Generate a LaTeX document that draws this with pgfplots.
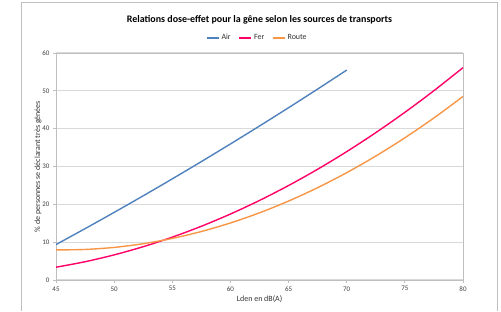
\documentclass[border=0pt]{standalone}
\usepackage{pgfplots}
\pgfplotsset{compat=1.18}
\usepackage{fontspec}
\setmainfont{Carlito}
\definecolor{cair}{HTML}{4F81BD}
\definecolor{cfer}{HTML}{FF0066}
\definecolor{croute}{HTML}{F79646}
\definecolor{cgrid}{HTML}{D9D9D9}
\definecolor{caxis}{HTML}{BFBFBF}
\begin{document}
\begin{tikzpicture}[x=1bp,y=1bp]
\path[use as bounding box] (0,0) rectangle (501,311);
\draw[caxis,line width=0.8bp] (21,0) -- (21,309) -- (497,309) -- (497,0);
\begin{axis}[
  at={(56bp,31bp)}, anchor=south west,
  width=407bp, height=227bp, scale only axis,
  xmin=45, xmax=80, ymin=0, ymax=60,
  xtick={45,50,...,80}, ytick={0,10,...,60},
  ymajorgrids, grid style={cgrid,line width=1.1bp},
  axis line style={caxis,line width=0.8bp},
  tick style={caxis,line width=0.8bp},
  tick align=outside, major tick length=3bp,
  xtick pos=bottom, ytick pos=left,
  ticklabel style={font=\fontsize{7}{8}\selectfont, text=black!75},
  /pgf/number format/assume math mode=true,
  xlabel={Lden en dB(A)},
  xlabel style={font=\fontsize{8}{9}\selectfont, text=black!80, yshift=3bp},
  ylabel={\% de personnes se déclarant très gênées},
  ylabel style={font=\fontsize{8}{9}\selectfont, text=black!80, yshift=-6bp},
  title={\textbf{Relations dose-effet pour la gêne selon les sources de transports}},
  title style={font=\fontsize{10}{12}\selectfont, at={(0.5,1)}, anchor=center, yshift=27bp},
  legend columns=3,
  legend style={at={(0.495,1)}, anchor=center, yshift=15bp, draw=none, fill=none,
    font=\fontsize{8}{9}\selectfont, text=black!80,
    /tikz/every even column/.append style={column sep=6bp}},
  legend image code/.code={\draw[#1,line width=1.3bp] (0bp,0bp) -- (12bp,0bp);},
  every axis plot/.append style={line width=1.4bp, no marks, smooth},
]
\addplot[cair] coordinates {
(45,9.367) (47.5,13.574) (50,17.871) (52.5,22.258) (55,26.735) (57.5,31.302)
(60,35.959) (62.5,40.706) (65,45.543) (67.5,50.470) (70,55.487)};
\addlegendentry{Air}
\addplot[cfer] coordinates {
(45,3.380) (47.5,4.832) (50,6.641) (52.5,8.806) (55,11.326) (57.5,14.204)
(60,17.437) (62.5,21.027) (65,24.972) (67.5,29.275) (70,33.933) (72.5,38.948)
(75,44.319) (77.5,50.046) (80,56.130)};
\addlegendentry{Fer}
\addplot[croute] coordinates {
(45,7.953) (47.5,8.071) (50,8.617) (52.5,9.591) (55,10.991) (57.5,12.820)
(60,15.075) (62.5,17.758) (65,20.869) (67.5,24.408) (70,28.373) (72.5,32.767)
(75,37.587) (77.5,42.836) (80,48.511)};
\addlegendentry{Route}
\end{axis}
\end{tikzpicture}
\end{document}
